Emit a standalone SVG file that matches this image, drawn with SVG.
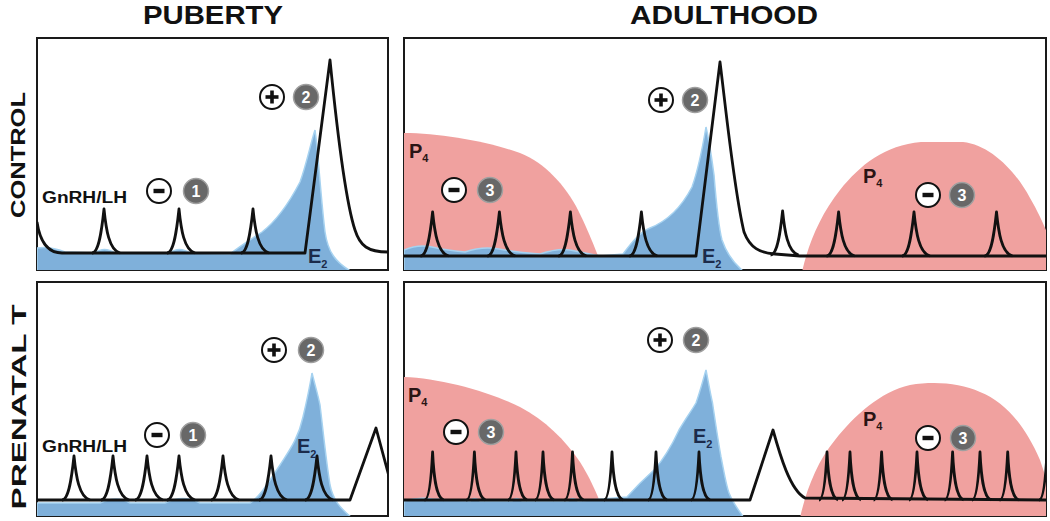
<svg xmlns="http://www.w3.org/2000/svg" xmlns:xlink="http://www.w3.org/1999/xlink" width="1050" height="521" viewBox="0 0 1050 521">
<style>
.hdr{font-family:"Liberation Sans",Arial,sans-serif;font-weight:bold;font-size:25px;fill:#111}
.side{font-family:"Liberation Sans",Arial,sans-serif;font-weight:bold;font-size:21px;fill:#111}
.lbl{font-family:"Liberation Sans",Arial,sans-serif;font-weight:bold;font-size:16px;fill:#111}
.e2{font-family:"Liberation Sans",Arial,sans-serif;font-weight:bold;font-size:20px;fill:#1c2b4b}
.p4{font-family:"Liberation Sans",Arial,sans-serif;font-weight:bold;font-size:20px;fill:#2a1414}
.sub{font-size:11px}
.num{font-family:"Liberation Sans",Arial,sans-serif;font-weight:bold;font-size:16px;fill:#fff;text-anchor:middle}
.frame{fill:#fff;stroke:#1a1a1a;stroke-width:2}
.red{fill:#f0a19f;stroke:none}
.blue{fill:#7fb0da;stroke:#a6d2f0;stroke-width:1.5}
.ln{fill:none;stroke:#111;stroke-width:2.8;stroke-linejoin:round}
.neg{fill:#fff;stroke:#111;stroke-width:2}
.gry{fill:#686868;stroke:#a0a0a0;stroke-width:1.5}
.bar{fill:#111}
</style>
<defs>
<clipPath id="cTL"><rect x="37" y="38" width="351" height="232"/></clipPath>
<clipPath id="cTR"><rect x="404" y="38" width="642" height="232"/></clipPath>
<clipPath id="cBL"><rect x="37" y="282" width="351" height="234"/></clipPath>
<clipPath id="cBR"><rect x="404" y="282" width="642" height="234"/></clipPath>
<path id="pk" d="M-12,0 C-5,0 -2,-25 0,-44 C2,-24 5,-3 16,0"/>
<path id="pkn" d="M-8,0 C-3,0 -1,-28 0,-48 C1,-26 3,-3 11,0"/>
<g id="minus"><circle r="12" class="neg"/><rect x="-5.5" y="-2.2" width="11" height="4.4" class="bar"/></g>
<g id="plus"><circle r="12" class="neg"/><rect x="-6.5" y="-1.8" width="13" height="3.6" class="bar"/><rect x="-1.8" y="-6.5" width="3.6" height="13" class="bar"/></g>
<circle id="gc" r="12.5" class="gry"/>
</defs>

<g id="headers">
<text class="hdr" x="213" y="24" text-anchor="middle" textLength="140" lengthAdjust="spacingAndGlyphs">PUBERTY</text>
<text class="hdr" x="724" y="24" text-anchor="middle" textLength="188" lengthAdjust="spacingAndGlyphs">ADULTHOOD</text>
<text class="side" transform="translate(25,155) rotate(-90)" text-anchor="middle" textLength="126" lengthAdjust="spacingAndGlyphs">CONTROL</text>
<text class="side" transform="translate(26,407) rotate(-90)" text-anchor="middle" textLength="205" lengthAdjust="spacingAndGlyphs">PRENATAL T</text>
</g>

<!-- Top-left: Control puberty -->
<g id="panel-control-puberty">
<rect class="frame" x="37" y="38" width="351" height="232"/>
<g clip-path="url(#cTL)">
<path class="blue" d="M37,248 Q50,246 65,252 L95,253 Q104,246 115,253 L170,253 Q179,246 190,253 L230,254 C240,246 250,240 262,232 C275,222 288,205 300,182 C306,166 311,142 315,130 C318,150 321,200 325,232 C328,252 335,262 352,272 L37,272 Z"/>
<g class="ln">
<path d="M37,222 C40,242 48,253 62,253 L305,253 L330,60 C336,120 345,200 355,230 C360,246 368,252 388,252"/>
<use xlink:href="#pk" x="104" y="253"/>
<use xlink:href="#pk" x="179" y="253"/>
<use xlink:href="#pk" x="253" y="253"/>
</g>
</g>
<text class="lbl" x="42" y="203" textLength="85" lengthAdjust="spacingAndGlyphs">GnRH/LH</text>
<text class="e2" x="308" y="263">E<tspan class="sub" dy="5">2</tspan></text>
<use xlink:href="#minus" x="159" y="191"/>
<use xlink:href="#gc" x="196" y="191"/><text class="num" x="196" y="197">1</text>
<use xlink:href="#plus" x="272" y="97"/>
<use xlink:href="#gc" x="306" y="97"/><text class="num" x="306" y="103">2</text>
</g>

<!-- Top-right: Control adulthood -->
<g id="panel-control-adulthood">
<rect class="frame" x="404" y="38" width="642" height="232"/>
<g clip-path="url(#cTR)">
<path class="red" d="M404,133 C440,133 490,142 520,153 C545,163 565,185 578,210 C588,230 596,250 604,272 L404,272 Z"/>
<path class="red" d="M802,272 C808,245 820,215 840,190 C860,165 885,145 921,142 L963,142 C990,145 1015,170 1030,198 C1040,215 1046,230 1050,240 L1050,272 Z"/>
<path class="blue" d="M404,250 Q418,244 432,247 Q445,250 465,252 Q482,246 499,249 Q515,252 540,254 Q558,248 570,250 Q585,253 600,256 L623,254 C632,242 640,232 650,228 C665,222 680,210 692,187 C698,170 703,145 706,127 C709,140 712,160 714,175 C716,200 718,225 722,240 C726,252 732,262 744,272 L404,272 Z"/>
<g class="ln">
<path d="M404,256 L696,256 L720,62 C726,110 734,190 744,232 C750,248 760,253 775,254 L800,256 L1046,256"/>
<use xlink:href="#pk" x="432.6" y="256"/>
<use xlink:href="#pk" x="499.4" y="256"/>
<use xlink:href="#pk" x="570.4" y="256"/>
<use xlink:href="#pk" x="641.4" y="256"/>
<use xlink:href="#pk" x="782.6" y="255"/>
<use xlink:href="#pk" x="838.6" y="256"/>
<use xlink:href="#pk" x="914" y="256"/>
<use xlink:href="#pk" x="996.5" y="256"/>
</g>
</g>
<text class="p4" x="409" y="158">P<tspan class="sub" dy="4">4</tspan></text>
<text class="p4" x="863" y="183">P<tspan class="sub" dy="4">4</tspan></text>
<text class="e2" x="702" y="263">E<tspan class="sub" dy="5">2</tspan></text>
<use xlink:href="#minus" x="454" y="190"/>
<use xlink:href="#gc" x="490" y="190"/><text class="num" x="490" y="196">3</text>
<use xlink:href="#minus" x="928" y="195"/>
<use xlink:href="#gc" x="962" y="195"/><text class="num" x="962" y="201">3</text>
<use xlink:href="#plus" x="661" y="100"/>
<use xlink:href="#gc" x="695" y="100"/><text class="num" x="695" y="106">2</text>
</g>

<!-- Bottom-left: Prenatal T puberty -->
<g id="panel-prenatal-puberty">
<rect class="frame" x="37" y="282" width="351" height="234"/>
<g clip-path="url(#cBL)">
<path class="blue" d="M37,503 L100,503 Q117,495 130,503 L165,503 Q183,494 200,503 L250,503 C260,497 270,480 280,465 C288,452 298,440 303,417 C307,400 310,385 312,373 C315,385 318,395 320,405 C323,430 326,460 330,485 C333,500 340,508 352,518 L37,518 Z"/>
<g class="ln">
<path d="M37,500 L350,500 L376,428 L390,480"/>
<use xlink:href="#pk" x="74" y="500"/>
<use xlink:href="#pk" x="113" y="500"/>
<use xlink:href="#pk" x="147" y="500"/>
<use xlink:href="#pk" x="179" y="500"/>
<use xlink:href="#pk" x="223" y="500"/>
<use xlink:href="#pk" x="271" y="500"/>
<use xlink:href="#pk" x="317" y="500"/>
</g>
</g>
<text class="lbl" x="42" y="452" textLength="85" lengthAdjust="spacingAndGlyphs">GnRH/LH</text>
<text class="e2" x="297" y="453">E<tspan class="sub" dy="5">2</tspan></text>
<use xlink:href="#minus" x="157" y="435"/>
<use xlink:href="#gc" x="193" y="435"/><text class="num" x="193" y="441">1</text>
<use xlink:href="#plus" x="274" y="350"/>
<use xlink:href="#gc" x="311" y="350"/><text class="num" x="311" y="356">2</text>
</g>

<!-- Bottom-right: Prenatal T adulthood -->
<g id="panel-prenatal-adulthood">
<rect class="frame" x="404" y="282" width="642" height="234"/>
<g clip-path="url(#cBR)">
<path class="red" d="M404,377 C440,378 490,392 520,407 C545,420 565,440 580,462 C590,478 598,495 606,518 L404,518 Z"/>
<path class="red" d="M800,518 C806,490 818,460 835,440 C855,415 880,392 910,385 C935,381 960,383 980,392 C1005,402 1025,425 1040,460 L1050,490 L1050,518 Z"/>
<path class="blue" d="M404,501 Q418,497 432,499 L470,501 Q474,496 480,501 L512,501 Q516,496 522,501 L568,501 Q572,496 578,501 L627,497 C635,488 645,478 654,470 C663,460 672,445 679,430 C686,418 692,410 696,403 C700,392 703,380 706,370 C708,380 710,392 712.5,403 C715,420 718,440 721,457 C724,472 726,485 729,493 C733,503 737,508 744,518 L404,518 Z"/>
<g class="ln">
<path d="M404,500 L750,500 L773,430 C780,455 790,490 805,498 L1046,500"/>
<use xlink:href="#pkn" x="432.6" y="500"/>
<use xlink:href="#pkn" x="474.4" y="500"/>
<use xlink:href="#pkn" x="516" y="500"/>
<use xlink:href="#pkn" x="543" y="500"/>
<use xlink:href="#pkn" x="572.5" y="500"/>
<use xlink:href="#pkn" x="612" y="500"/>
<use xlink:href="#pkn" x="656" y="500"/>
<use xlink:href="#pkn" x="699" y="500"/>
<use xlink:href="#pkn" x="827" y="500"/>
<use xlink:href="#pkn" x="850" y="500"/>
<use xlink:href="#pkn" x="881.6" y="500"/>
<use xlink:href="#pkn" x="917" y="500"/>
<use xlink:href="#pkn" x="952.6" y="500"/>
<use xlink:href="#pkn" x="980" y="500"/>
<use xlink:href="#pkn" x="1007.7" y="500"/>
<use xlink:href="#pkn" x="1047" y="500"/>
</g>
</g>
<text class="p4" x="408" y="402">P<tspan class="sub" dy="4">4</tspan></text>
<text class="p4" x="863" y="426">P<tspan class="sub" dy="4">4</tspan></text>
<text class="e2" x="693" y="443">E<tspan class="sub" dy="5">2</tspan></text>
<use xlink:href="#minus" x="456" y="432"/>
<use xlink:href="#gc" x="491" y="432"/><text class="num" x="491" y="438">3</text>
<use xlink:href="#minus" x="928" y="438"/>
<use xlink:href="#gc" x="963" y="438"/><text class="num" x="963" y="444">3</text>
<use xlink:href="#plus" x="660" y="340"/>
<use xlink:href="#gc" x="696" y="340"/><text class="num" x="696" y="346">2</text>
</g>

<g id="connectors"></g>
</svg>
